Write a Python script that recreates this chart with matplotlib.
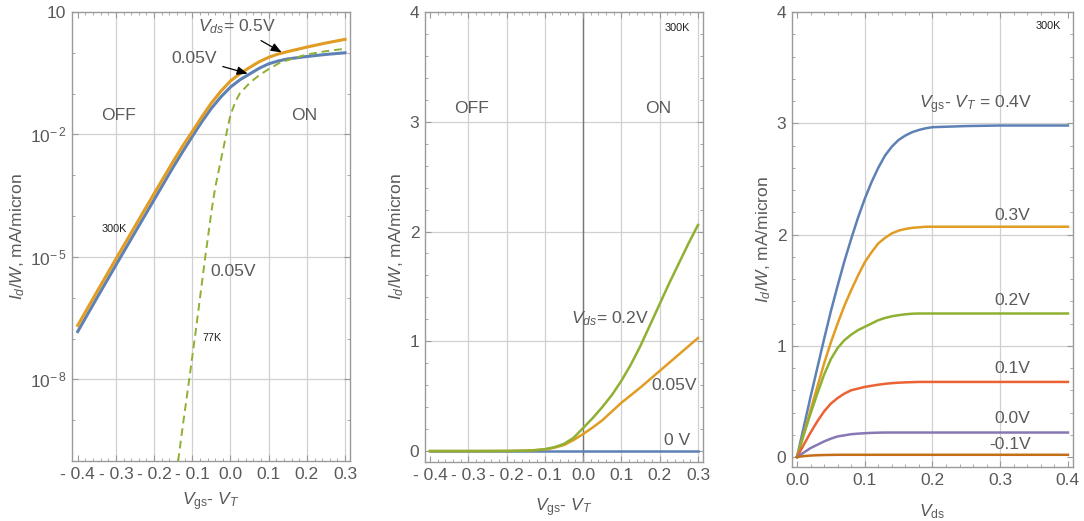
import numpy as np
import matplotlib
matplotlib.use('Agg')
import matplotlib.pyplot as plt

plt.rcParams['font.family'] = ['Liberation Sans', 'DejaVu Sans']
plt.rcParams['mathtext.fontset'] = 'custom'
plt.rcParams['mathtext.rm'] = 'Liberation Sans'
plt.rcParams['mathtext.it'] = 'Liberation Sans:italic'

# colours (Mathematica defaults)
c_blue = '#5E81B5'
c_orange = '#E19C24'
c_green = '#8FB032'
c_red = '#EB6235'
c_purple = '#8778B3'
c_brown = '#C56E1A'
c_text = '#5a5a5a'
c_frame = '#9a9a9a'
c_grid = '#d0d0d0'

# ---- panel 1: log Id/W vs Vgs-VT ----
vov_log = [-0.4, -0.35, -0.3, -0.25, -0.2, -0.15, -0.125, -0.1, -0.075, -0.05, -0.025,
           0.0, 0.025, 0.05, 0.075, 0.1, 0.125, 0.15, 0.2, 0.25, 0.3]
log_id_05 = [-6.68, -5.86, -5.05, -4.25, -3.45, -2.66, -2.28, -1.93, -1.57, -1.23, -0.94,
             -0.69, -0.51, -0.36, -0.22, -0.11, -0.03, 0.03, 0.14, 0.24, 0.33]
log_id_005 = [-6.83, -6.01, -5.2, -4.4, -3.6, -2.8, -2.42, -2.05, -1.69, -1.36, -1.08,
              -0.84, -0.66, -0.52, -0.38, -0.27, -0.2, -0.15, -0.09, -0.04, 0.0]
vov_77k = [-0.137, -0.125, -0.108, -0.09, -0.075, -0.066, -0.05, -0.04, -0.03, -0.02, -0.01,
           0.0, 0.012, 0.024, 0.05, 0.075, 0.1, 0.128, 0.15, 0.2, 0.25, 0.3]
log_id_77k = [-10.0, -9.15, -8.0, -6.75, -5.65, -5.0, -3.9, -3.3, -2.85, -2.4, -1.95,
              -1.52, -1.22, -1.0, -0.74, -0.55, -0.4, -0.25, -0.18, -0.04, 0.04, 0.1]

# ---- panel 2: linear Id/W vs Vgs-VT ----
vov_lin = [-0.4, -0.3, -0.2, -0.175, -0.15, -0.125, -0.1, -0.075, -0.05, -0.025, 0.0,
           0.025, 0.05, 0.075, 0.1, 0.125, 0.15, 0.175, 0.2, 0.225, 0.25, 0.275, 0.3]
id_vds0 = [0.0] * len(vov_lin)
id_vds005 = [0.0, 0.0, 0.001, 0.002, 0.004, 0.008, 0.015, 0.03, 0.055, 0.1, 0.155,
             0.215, 0.28, 0.36, 0.44, 0.51, 0.58, 0.655, 0.73, 0.805, 0.88, 0.955, 1.03]
id_vds02 = [0.0, 0.0, 0.001, 0.002, 0.004, 0.008, 0.017, 0.035, 0.065, 0.12, 0.21,
            0.30, 0.40, 0.51, 0.64, 0.79, 0.96, 1.15, 1.34, 1.53, 1.71, 1.89, 2.06]

# ---- panel 3: output characteristics ----
vds = [0.0, 0.01, 0.02, 0.03, 0.04, 0.05, 0.06, 0.07, 0.08, 0.09, 0.1,
       0.11, 0.12, 0.13, 0.14, 0.15, 0.16, 0.17, 0.18, 0.19, 0.2,
       0.25, 0.3, 0.35, 0.4]
id_ov04 = [0.0, 0.27, 0.54, 0.8, 1.06, 1.31, 1.54, 1.76, 1.96, 2.15, 2.32,
           2.47, 2.6, 2.71, 2.79, 2.85, 2.89, 2.92, 2.94, 2.955, 2.965,
           2.975, 2.98, 2.98, 2.98]
id_ov03 = [0.0, 0.21, 0.42, 0.63, 0.84, 1.03, 1.2, 1.36, 1.5, 1.63, 1.75,
           1.84, 1.92, 1.97, 2.01, 2.035, 2.05, 2.06, 2.065, 2.07, 2.07,
           2.07, 2.07, 2.07, 2.07]
id_ov02 = [0.0, 0.2, 0.39, 0.57, 0.74, 0.88, 0.98, 1.05, 1.1, 1.14, 1.17,
           1.2, 1.23, 1.25, 1.265, 1.275, 1.283, 1.288, 1.29, 1.29, 1.29,
           1.29, 1.29, 1.29, 1.29]
id_ov01 = [0.0, 0.11, 0.22, 0.32, 0.41, 0.48, 0.53, 0.57, 0.6, 0.615, 0.63,
           0.64, 0.65, 0.658, 0.664, 0.668, 0.671, 0.673, 0.675, 0.675, 0.675,
           0.675, 0.675, 0.675, 0.675]
id_ov00 = [0.0, 0.04, 0.08, 0.11, 0.14, 0.165, 0.185, 0.195, 0.205, 0.21, 0.214,
           0.217, 0.219, 0.22, 0.22, 0.22, 0.22, 0.22, 0.22, 0.22, 0.22,
           0.22, 0.22, 0.22, 0.22]
id_ovm01 = [0.0, 0.008, 0.013, 0.016, 0.018, 0.019, 0.02, 0.02, 0.02, 0.02, 0.02,
            0.02, 0.02, 0.02, 0.02, 0.02, 0.02, 0.02, 0.02, 0.02, 0.02,
            0.02, 0.02, 0.02, 0.02]

vov_ticks = [-0.4, -0.3, -0.2, -0.1, 0.0, 0.1, 0.2, 0.3]
vov_ticklabels = ['- 0.4', '- 0.3', '- 0.2', '- 0.1', '0.0', '0.1', '0.2', '0.3']
vov_grid = [-0.3, -0.2, -0.1, 0.0, 0.1, 0.2, 0.3]
log_ticks = [1e-8, 1e-5, 1e-2, 1e1]
log_ticklabels = [r'$\mathregular{10^{-\,8}}$', r'$\mathregular{10^{-\,5}}$',
                  r'$\mathregular{10^{-\,2}}$', '10']
vds_ticks = [0.0, 0.1, 0.2, 0.3, 0.4]
vds_ticklabels = ['0.0', '0.1', '0.2', '0.3', '0.4']
lin_ticks = [0, 1, 2, 3, 4]

fs_tick = 12.5
fs_text = 12.6
fs_lab = 12.5
fs_small = 7.8

fig = plt.figure(figsize=(10.84, 5.21), dpi=100)
ax1 = fig.add_axes([0.0664, 0.1152, 0.2565, 0.8618])
ax2 = fig.add_axes([0.3920, 0.1132, 0.2565, 0.8637])
ax3 = fig.add_axes([0.7306, 0.1036, 0.2592, 0.8733])


def style(ax):
    for s in ax.spines.values():
        s.set_color(c_frame)
        s.set_linewidth(1.0)
    ax.tick_params(which='both', direction='in', top=True, right=True,
                   color=c_frame, labelcolor=c_text, labelsize=fs_tick)
    ax.tick_params(which='major', length=4.5, width=0.8, pad=4)
    ax.tick_params(which='minor', length=2.5, width=0.6)


ylab = r'$I_d/W$, mA/micron'
xlab_ov = r'$V_{\mathrm{gs}}$- $V_T$'

# panel 1
ax1.set_yscale('log')
ax1.set_xlim(-0.415, 0.313)
ax1.set_ylim(1e-10, 10)
for g in vov_grid:
    ax1.axvline(g, color=c_grid, lw=0.9, zorder=0)
for g in log_ticks[:-1]:
    ax1.axhline(g, color=c_grid, lw=0.9, zorder=0)
ax1.plot(vov_log, 10 ** np.array(log_id_005), color=c_blue, lw=2.2)
ax1.plot(vov_log, 10 ** np.array(log_id_05), color=c_orange, lw=2.2)
ax1.plot(vov_77k, 10 ** np.array(log_id_77k), color=c_green, lw=1.4, ls=(0, (4, 2.5)))
ax1.set_xticks(vov_ticks, vov_ticklabels)
ax1.set_xticks(np.arange(-0.4, 0.301, 0.02), minor=True)
ax1.set_yticks(log_ticks, log_ticklabels)
ax1.set_yticks([10.0 ** k for k in range(-10, 2)], minor=True)
ax1.yaxis.set_minor_formatter(matplotlib.ticker.NullFormatter())
style(ax1)
ax1.set_ylabel(ylab, color=c_text, fontsize=fs_lab)
ax1.yaxis.set_label_coords(-0.162, 0.5)
ax1.set_xlabel(xlab_ov, color=c_text, fontsize=fs_lab)
ax1.xaxis.set_label_coords(0.5, -0.066)
ax1.text(-0.293, 10 ** -1.54, 'OFF', color=c_text, fontsize=fs_text, ha='center', va='center')
ax1.text(0.194, 10 ** -1.54, 'ON', color=c_text, fontsize=fs_text, ha='center', va='center')
ax1.text(-0.304, 10 ** -4.31, '300K', color='#222222', fontsize=fs_small, ha='center', va='center')
ax1.text(0.008, 10 ** -5.35, '0.05V', color=c_text, fontsize=fs_text, ha='center', va='center')
ax1.text(-0.047, 10 ** -6.98, '77K', color='#222222', fontsize=fs_small, ha='center', va='center')
ax1.annotate(r'$V_{ds}$= 0.5V', xy=(0.134, 10 ** 0.01), xytext=(0.018, 10 ** 0.63),
             color=c_text, fontsize=fs_text, ha='center', va='center',
             arrowprops=dict(arrowstyle='-|>,head_length=0.5,head_width=0.2',
                             color='black', lw=0.9, shrinkA=2, shrinkB=0))
ax1.annotate('0.05V', xy=(0.045, 10 ** -0.51), xytext=(-0.094, 10 ** -0.14),
             color=c_text, fontsize=fs_text, ha='center', va='center',
             arrowprops=dict(arrowstyle='-|>,head_length=0.5,head_width=0.2',
                             color='black', lw=0.9, shrinkA=2, shrinkB=0))

# panel 2
ax2.set_xlim(-0.413, 0.313)
ax2.set_ylim(-0.1, 4)
for g in vov_grid:
    ax2.axvline(g, color=c_grid, lw=0.9, zorder=0)
for g in lin_ticks[1:-1]:
    ax2.axhline(g, color=c_grid, lw=0.9, zorder=0)
ax2.axvline(0.0, color='#777777', lw=1.0, zorder=1)
ax2.plot(vov_lin, id_vds0, color=c_blue, lw=1.8)
ax2.plot(vov_lin, id_vds005, color=c_orange, lw=1.8)
ax2.plot(vov_lin, id_vds02, color=c_green, lw=1.8)
ax2.set_xticks(vov_ticks, vov_ticklabels)
ax2.set_xticks(np.arange(-0.4, 0.301, 0.02), minor=True)
ax2.set_yticks(lin_ticks, [str(t) for t in lin_ticks])
ax2.set_yticks(np.arange(0, 4.01, 0.2), minor=True)
style(ax2)
ax2.set_ylabel(ylab, color=c_text, fontsize=fs_lab)
ax2.yaxis.set_label_coords(-0.068, 0.5)
ax2.set_xlabel(xlab_ov, color=c_text, fontsize=fs_lab)
ax2.xaxis.set_label_coords(0.5, -0.076)
ax2.text(-0.29, 3.12, 'OFF', color=c_text, fontsize=fs_text, ha='center', va='center')
ax2.text(0.196, 3.12, 'ON', color=c_text, fontsize=fs_text, ha='center', va='center')
ax2.text(0.246, 3.85, '300K', color='#222222', fontsize=fs_small, ha='center', va='center')
ax2.text(0.071, 1.21, r'$V_{ds}$= 0.2V', color=c_text, fontsize=fs_text, ha='center', va='center')
ax2.text(0.238, 0.60, '0.05V', color=c_text, fontsize=fs_text, ha='center', va='center')
ax2.text(0.246, 0.10, '0 V', color=c_text, fontsize=fs_text, ha='center', va='center')

# panel 3
ax3.set_xlim(-0.0074, 0.4074)
ax3.set_ylim(-0.09, 4)
for g in vds_ticks[1:-1]:
    ax3.axvline(g, color=c_grid, lw=0.9, zorder=0)
for g in lin_ticks[1:-1]:
    ax3.axhline(g, color=c_grid, lw=0.9, zorder=0)
ax3.plot(vds, id_ov04, color=c_blue, lw=1.8)
ax3.plot(vds, id_ov03, color=c_orange, lw=1.8)
ax3.plot(vds, id_ov02, color=c_green, lw=1.8)
ax3.plot(vds, id_ov01, color=c_red, lw=1.8)
ax3.plot(vds, id_ov00, color=c_purple, lw=1.8)
ax3.plot(vds, id_ovm01, color=c_brown, lw=1.8)
ax3.set_xticks(vds_ticks, vds_ticklabels)
ax3.set_xticks(np.arange(0, 0.401, 0.02), minor=True)
ax3.set_yticks(lin_ticks, [str(t) for t in lin_ticks])
ax3.set_yticks(np.arange(0, 4.01, 0.2), minor=True)
style(ax3)
ax3.set_ylabel(ylab, color=c_text, fontsize=fs_lab)
ax3.yaxis.set_label_coords(-0.067, 0.5)
ax3.set_xlabel(r'$V_{\mathrm{ds}}$', color=c_text, fontsize=fs_lab)
ax3.xaxis.set_label_coords(0.5, -0.078)
ax3.text(0.264, 3.17, r'$V_{\mathrm{gs}}$- $V_T$ = 0.4V', color=c_text, fontsize=fs_text,
         ha='center', va='center')
ax3.text(0.318, 2.17, '0.3V', color=c_text, fontsize=fs_text, ha='center', va='center')
ax3.text(0.318, 1.41, '0.2V', color=c_text, fontsize=fs_text, ha='center', va='center')
ax3.text(0.318, 0.80, '0.1V', color=c_text, fontsize=fs_text, ha='center', va='center')
ax3.text(0.318, 0.35, '0.0V', color=c_text, fontsize=fs_text, ha='center', va='center')
ax3.text(0.315, 0.108, '-0.1V', color=c_text, fontsize=fs_text, ha='center', va='center')
ax3.text(0.371, 3.87, '300K', color='#222222', fontsize=fs_small, ha='center', va='center')

fig.savefig('out.png', dpi=100)
